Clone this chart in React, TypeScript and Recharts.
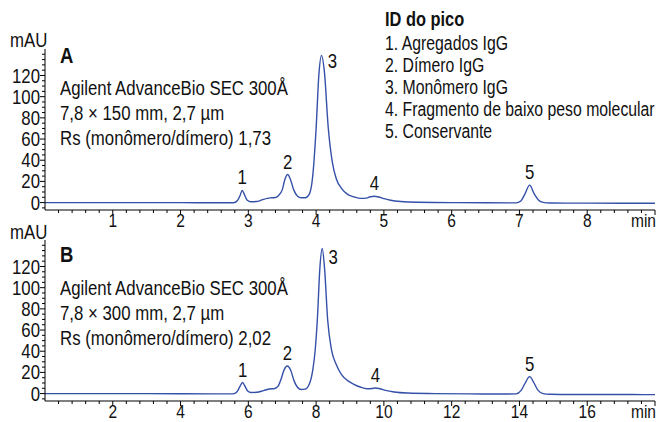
import React from 'react';
import { LineChart, Line, XAxis, YAxis, ReferenceDot } from 'recharts';

const FONT = "'Liberation Sans', Arial, sans-serif";
const LINE_COLOR = '#3550a8';
const FS = 20;
const SX = 0.84;

// Panel A: 7,8 x 150 mm column (time in min, absorbance in mAU)
const topTime = [0, 0.5, 1, 1.5, 2, 2.5, 2.78, 2.84, 2.88, 2.91, 2.94, 2.98, 3.04, 3.12, 3.2, 3.28, 3.34, 3.4, 3.45, 3.5, 3.54, 3.58, 3.62, 3.67, 3.72, 3.78, 3.84, 3.9, 3.95, 4.0, 4.04, 4.08, 4.12, 4.18, 4.24, 4.3, 4.38, 4.46, 4.55, 4.65, 4.74, 4.8, 4.86, 4.92, 5.0, 5.1, 5.25, 5.5, 6.0, 6.5, 6.95, 7.02, 7.08, 7.15, 7.22, 7.28, 7.35, 7.45, 7.7, 8.0, 8.5, 9.0];
const topAbs = [0, 0, 0, 0, 0, -0.2, -0.2, 2, 7, 11.5, 8, 2.5, 0.8, 1, 2.5, 4, 4.5, 4.8, 7, 12, 22, 26.5, 22, 12, 6.5, 4.5, 4.5, 8, 25, 70, 120, 139, 125, 70, 38, 22, 13, 8, 5.5, 4, 4.2, 5.5, 6, 5.3, 3.8, 2.2, 1, 0.3, 0, -0.2, -0.3, 1.5, 8, 16.5, 8, 2.5, 0.2, -0.4, -0.5, -0.5, -0.6, -0.6];

// Panel B: 7,8 x 300 mm column
const bottomTime = [0, 1, 2, 3, 4, 5, 5.55, 5.66, 5.75, 5.83, 5.9, 5.98, 6.08, 6.25, 6.45, 6.63, 6.78, 6.88, 6.97, 7.05, 7.15, 7.25, 7.35, 7.45, 7.56, 7.68, 7.8, 7.9, 7.97, 8.04, 8.11, 8.18, 8.25, 8.34, 8.45, 8.6, 8.75, 8.92, 9.1, 9.3, 9.5, 9.65, 9.75, 9.88, 10.05, 10.3, 10.7, 11.5, 12.5, 13.5, 13.9, 14.05, 14.17, 14.3, 14.43, 14.55, 14.7, 14.9, 15.5, 16.5, 17.3, 18];
const bottomAbs = [0, 0, 0, 0, -0.2, -0.3, -0.3, 1.5, 6.5, 10.5, 7, 2.5, 1, 1.2, 2.8, 4.3, 4.8, 7, 14, 22, 26, 22, 12, 6, 3.8, 4.2, 9, 22, 40, 72, 118, 137, 118, 70, 42, 27, 18, 12.5, 9, 6.2, 4.5, 4.8, 5.3, 4.6, 3, 1.5, 0.5, 0, -0.3, -0.4, -0.3, 3, 10, 16, 10, 3, 0, -0.6, -0.8, -0.8, -0.9, -1];

const peakLabels = ['1', '2', '3', '4', '5'];
const topPeakTimes = [2.91, 3.58, 4.08, 4.86, 7.15];
const topPeakHeights = [11.5, 26.5, 139, 6, 16.5];
const bottomPeakTimes = [5.83, 7.15, 8.18, 9.75, 14.3];
const bottomPeakHeights = [10.5, 26, 137, 5.3, 16];

const topXLabels = [1, 2, 3, 4, 5, 6, 7, 8];
const bottomXLabels = [2, 4, 6, 8, 10, 12, 14, 16];
const yLabels = [0, 20, 40, 60, 80, 100, 120];

const legendTitle = 'ID do pico';
const legendItems = ['1. Agregados IgG', '2. Dímero IgG', '3. Monômero IgG', '4. Fragmento de baixo peso molecular', '5. Conservante'];

const panelA = ['Agilent AdvanceBio SEC 300Å', '7,8 × 150 mm, 2,7 µm', 'Rs (monômero/dímero) 1,73'];
const panelB = ['Agilent AdvanceBio SEC 300Å', '7,8 × 300 mm, 2,7 µm', 'Rs (monômero/dímero) 2,02'];

const yDomain: [number, number] = [-7, 145];

function stepTicks(start: number, end: number, step: number) {
  const out: number[] = [];
  const n = Math.round((end - start) / step);
  for (let i = 0; i <= n; i++) out.push(Math.round((start + i * step) * 1000) / 1000);
  return out;
}

const topData = topTime.map((t, i) => ({ t, v: topAbs[i] }));
const bottomData = bottomTime.map((t, i) => ({ t, v: bottomAbs[i] }));

function NarrowText(props: { x: number; y: number; anchor: string; size?: number; children: React.ReactNode }) {
  return (
    <text
      transform={`translate(${props.x},${props.y}) scale(${SX},1)`}
      x={0}
      y={0}
      textAnchor={props.anchor}
      dominantBaseline="central"
      fontFamily={FONT}
      fontSize={props.size ?? FS}
      fill="#111"
    >
      {props.children}
    </text>
  );
}

const makeXTick = (labels: number[], max: number) => (props: any) => {
  const { x, y, payload } = props;
  const v = Math.round(payload.value * 1000) / 1000;
  const isLabel = labels.includes(v);
  const major = isLabel || v === max || Number.isInteger(v);
  return (
    <g>
      <line x1={x} x2={x} y1={y} y2={y + (major ? 5 : 3)} stroke="#000" strokeWidth={1} />
      {isLabel && <NarrowText x={x} y={y + 11.5} anchor="middle" size={18.5}>{v}</NarrowText>}
      {v === max && <NarrowText x={x + 1} y={y + 11.5} anchor="end" size={18.5}>min</NarrowText>}
    </g>
  );
};

const renderYTick = (props: any) => {
  const { x, y, payload } = props;
  const v = payload.value;
  const major = yLabels.includes(v);
  return (
    <g>
      <line x1={x - (major ? 5 : 3)} x2={x} y1={y} y2={y} stroke="#000" strokeWidth={1} />
      {major && <NarrowText x={x - 5} y={y} anchor="end">{v}</NarrowText>}
    </g>
  );
};

const peakLabelContent = (text: string, dx: number, dy: number) => (props: any) => {
  const vb = props.viewBox || {};
  const cx = (vb.x ?? 0) + (vb.width ?? 0) / 2;
  const cy = (vb.y ?? 0) + (vb.height ?? 0) / 2;
  return <NarrowText x={cx + dx} y={cy + dy} anchor="middle">{text}</NarrowText>;
};

function Chromatogram(props: {
  data: { t: number; v: number }[];
  xMax: number;
  xLabels: number[];
  minorStep: number;
  peakTimes: number[];
  peakHeights: number[];
  height: number;
  marginTop: number;
  marginBottom: number;
  label3dy: number;
}) {
  const { data, xMax, xLabels, minorStep, peakTimes, peakHeights, height, marginTop, marginBottom, label3dy } = props;
  const xTicks = stepTicks(minorStep, xMax, minorStep);
  const yTicks = stepTicks(-5, 140, 5);
  return (
    <LineChart width={662} height={height} data={data} margin={{ top: marginTop, right: 7, bottom: marginBottom, left: 0 }}>
      <XAxis
        type="number"
        dataKey="t"
        domain={[0, xMax]}
        ticks={xTicks}
        interval={0}
        tickSize={0}
        tickMargin={0}
        tickLine={false}
        tick={makeXTick(xLabels, xMax)}
        axisLine={{ stroke: '#000' }}
        height={20}
        allowDataOverflow
      />
      <YAxis
        type="number"
        domain={yDomain}
        ticks={yTicks}
        interval={0}
        tickSize={0}
        tickMargin={0}
        tickLine={false}
        tick={renderYTick}
        axisLine={{ stroke: '#000' }}
        width={45}
        allowDataOverflow
      />
      <Line type="monotone" dataKey="v" stroke={LINE_COLOR} strokeWidth={1.4} dot={false} isAnimationActive={false} />
      {peakTimes.map((pt, i) => (
        <ReferenceDot
          key={i}
          x={pt}
          y={peakHeights[i]}
          r={0}
          fill="none"
          stroke="none"
          label={{ content: i === 2 ? peakLabelContent(peakLabels[i], 11, label3dy) : peakLabelContent(peakLabels[i], 0, -13) }}
        />
      ))}
    </LineChart>
  );
}

function Txt(props: { x: number; cy: number; size?: number; sx?: number; bold?: boolean; children: React.ReactNode }) {
  const size = props.size ?? FS;
  return (
    <div
      style={{
        position: 'absolute',
        left: props.x,
        top: props.cy - size * 0.49,
        fontSize: size,
        lineHeight: `${size}px`,
        fontFamily: FONT,
        fontWeight: props.bold ? 'bold' : 'normal',
        whiteSpace: 'nowrap',
        color: '#111',
        transform: `scaleX(${props.sx ?? SX})`,
        transformOrigin: 'left center',
      }}
    >
      {props.children}
    </div>
  );
}

export default function App() {
  return (
    <div style={{ position: 'absolute', left: 0, top: 0, width: 662, height: 422, background: '#fff', overflow: 'hidden' }}>
      <div style={{ position: 'absolute', left: 0, top: 0 }}>
        <Chromatogram
          data={topData}
          xMax={9}
          xLabels={topXLabels}
          minorStep={0.2}
          peakTimes={topPeakTimes}
          peakHeights={topPeakHeights}
          height={240}
          marginTop={49}
          marginBottom={10}
          label3dy={6}
        />
      </div>
      <div style={{ position: 'absolute', left: 0, top: 219 }}>
        <Chromatogram
          data={bottomData}
          xMax={18}
          xLabels={bottomXLabels}
          minorStep={0.4}
          peakTimes={bottomPeakTimes}
          peakHeights={bottomPeakHeights}
          height={203}
          marginTop={21}
          marginBottom={1}
          label3dy={8}
        />
      </div>

      <Txt x={10} cy={40}>mAU</Txt>
      <Txt x={60} cy={56} size={22} bold>A</Txt>
      {panelA.map((s, i) => (
        <Txt key={s} x={60} cy={88 + i * 25}>{s}</Txt>
      ))}

      <Txt x={10} cy={232}>mAU</Txt>
      <Txt x={60} cy={255} size={22} bold>B</Txt>
      {panelB.map((s, i) => (
        <Txt key={s + i} x={60} cy={288 + i * 25}>{s}</Txt>
      ))}

      <Txt x={385} cy={19} size={20} bold sx={0.82}>{legendTitle}</Txt>
      {legendItems.map((s, i) => (
        <Txt key={s} x={385} cy={43 + i * 22} size={20} sx={0.79}>{s}</Txt>
      ))}
    </div>
  );
}
